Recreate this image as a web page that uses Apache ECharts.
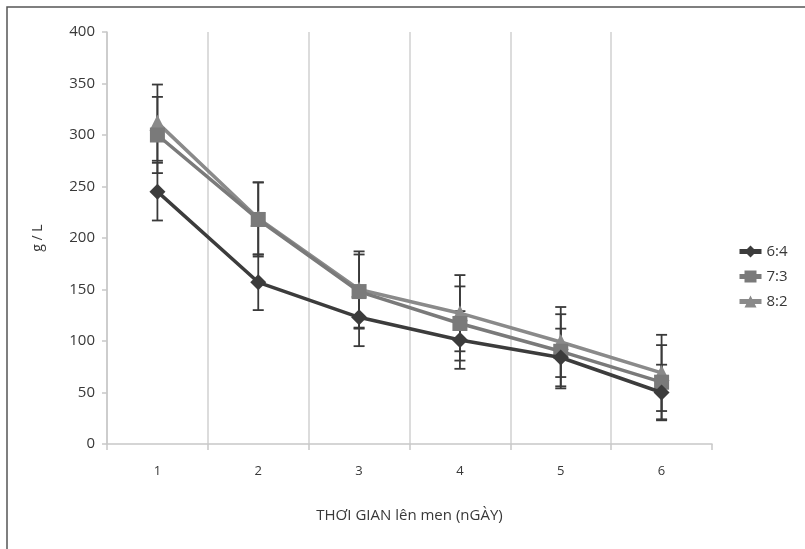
<!DOCTYPE html>
<html>
<head>
<meta charset="utf-8">
<script src="https://cdn.jsdelivr.net/npm/echarts@6/dist/echarts.min.js"></script>
<style>
  html, body { margin: 0; padding: 0; background: #fff; }
  #chart { width: 805px; height: 549px; }
</style>
</head>
<body>
<div id="chart"></div>
<script>
// Fermentation days
const days = ['1', '2', '3', '4', '5', '6'];

// Mean concentration (g/L) per ratio
const ratio64 = [245, 157, 123, 101, 84, 50];
const ratio73 = [300, 218, 148, 117, 90, 60];
const ratio82 = [312, 219, 150, 127, 99, 69];

// Error (±) per ratio
const err64 = [28, 27, 28, 28, 28, 27];
const err73 = [37, 36, 36, 36, 36, 36];
const err82 = [37, 35, 37, 37, 34, 37];

const seriesNames = ['6:4', '7:3', '8:2'];
const yTicks = { min: 0, max: 400, interval: 50 };

const FONT = '"Open Sans", "Noto Sans", sans-serif';
const TEXT = '#383838';
const AXIS = '#c8c8c8';

function errorData(vals, errs) {
  return vals.map((v, i) => [i, v - errs[i], v + errs[i]]);
}

function errorSeries(vals, errs, z) {
  return {
    type: 'custom',
    z: z,
    silent: true,
    data: errorData(vals, errs),
    encode: { x: 0, y: [1, 2] },
    renderItem: function (params, api) {
      const x = api.value(0);
      const lo = api.coord([x, api.value(1)]);
      const hi = api.coord([x, api.value(2)]);
      const half = 5.5;
      const style = { stroke: '#3a3a3a', lineWidth: 1.8 };
      return {
        type: 'group',
        children: [
          { type: 'line', shape: { x1: lo[0], y1: lo[1], x2: hi[0], y2: hi[1] }, style: style },
          { type: 'line', shape: { x1: lo[0] - half, y1: lo[1], x2: lo[0] + half, y2: lo[1] }, style: style },
          { type: 'line', shape: { x1: hi[0] - half, y1: hi[1], x2: hi[0] + half, y2: hi[1] }, style: style }
        ]
      };
    }
  };
}

function lineSeries(name, vals, color, symbol, size, z) {
  return {
    name: name,
    type: 'line',
    data: vals,
    z: z,
    symbol: symbol,
    symbolSize: size,
    showAllSymbol: true,
    lineStyle: { color: color, width: 3.5 },
    itemStyle: { color: color },
    emphasis: { disabled: true }
  };
}

const chart = echarts.init(document.getElementById('chart'), null, { renderer: 'canvas' });

chart.setOption({
  animation: false,
  backgroundColor: '#fff',
  textStyle: { fontFamily: FONT },
  graphic: [{
    type: 'rect',
    shape: { x: 7, y: 7, width: 820, height: 560 },
    style: { fill: 'none', stroke: '#555', lineWidth: 1.5 },
    silent: true,
    z: -10
  }],
  grid: { left: 107, right: 93, top: 32, bottom: 105 },
  legend: {
    orient: 'vertical',
    left: 732,
    top: 239,
    itemGap: 10,
    itemWidth: 22,
    itemHeight: 15,
    data: seriesNames,
    lineStyle: { width: 5 },
    textStyle: { color: TEXT, fontSize: 15, fontFamily: FONT }
  },
  xAxis: {
    type: 'category',
    data: days,
    boundaryGap: true,
    name: 'THƠI GIAN lên men (nGÀY)',
    nameLocation: 'middle',
    nameGap: 64,
    nameTextStyle: { color: TEXT, fontSize: 15, fontFamily: FONT },
    axisLine: { lineStyle: { color: AXIS, width: 1.5 } },
    axisTick: { show: true, length: 6, alignWithLabel: false, lineStyle: { color: AXIS, width: 1.5 } },
    axisLabel: { color: TEXT, fontSize: 13, margin: 21, fontFamily: FONT },
    splitLine: { show: true, showMaxLine: false, lineStyle: { color: '#d0d0d0', width: 1.5 } }
  },
  yAxis: {
    type: 'value',
    min: yTicks.min,
    max: yTicks.max,
    interval: yTicks.interval,
    name: 'g / L',
    nameLocation: 'middle',
    nameRotate: 90,
    nameGap: 62,
    nameTextStyle: { color: TEXT, fontSize: 14, fontFamily: FONT },
    axisLine: { show: true, lineStyle: { color: AXIS, width: 1.5 } },
    axisTick: { show: true, length: 5, lineStyle: { color: AXIS, width: 1.5 } },
    axisLabel: { color: TEXT, fontSize: 15, margin: 12, fontFamily: FONT },
    splitLine: { show: false }
  },
  series: [
    errorSeries(ratio64, err64, 1),
    errorSeries(ratio73, err73, 1),
    errorSeries(ratio82, err82, 1),
    lineSeries(seriesNames[0], ratio64, '#3c3c3c', 'diamond', 16, 4),
    lineSeries(seriesNames[1], ratio73, '#7a7a7a', 'rect', 15, 3),
    lineSeries(seriesNames[2], ratio82, '#8a8a8a', 'triangle', 16, 2)
  ]
});
</script>
</body>
</html>
